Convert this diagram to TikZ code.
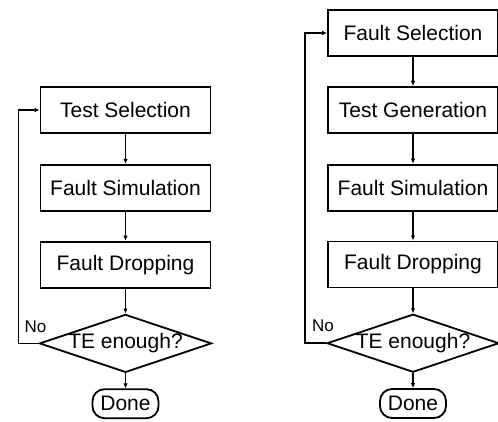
\documentclass[tikz,border=0pt]{standalone}
\usepackage{fontspec}
\setmainfont{Liberation Sans}
\usetikzlibrary{shapes.geometric, arrows.meta, positioning}
\tikzset{
    stepbox/.style = {draw, line width=1.8pt, minimum width=170pt, minimum height=46pt,
                      inner sep=0pt, font=\fontsize{21}{24}\selectfont},
    check/.style   = {draw, diamond, line width=1.8pt, minimum width=172pt, minimum height=58pt,
                      inner sep=0pt, font=\fontsize{21}{24}\selectfont},
    endbox/.style  = {draw, rounded corners=12pt, line width=1.8pt, minimum width=66pt,
                      minimum height=29pt, inner sep=0pt, font=\fontsize{21}{24}\selectfont},
    nolab/.style   = {inner sep=0pt, font=\fontsize{17}{20}\selectfont},
    flow/.style    = {-{Latex[length=5pt, width=4.5pt]}, line width=1.6pt},
}

\begin{document}
\begin{tikzpicture}[x=1pt, y=-1pt]
    \useasboundingbox (0,0) rectangle (498,421);
    % left: test oriented
    \node[stepbox] (sel) at (125.5,110) {Test Selection};
    \node[stepbox, below=30pt of sel] (sim) {Fault Simulation};
    \node[stepbox, below=29pt of sim] (drop) {Fault Dropping};
    \node[check, below=25pt of drop] (chk) {\makebox[0pt]{TE enough?}};
    \node[endbox, below=15pt of chk] (done) {Done};
    \node[nolab, anchor=south east] (no) at ([shift={(8,-11)}]chk.west) {No};
    \draw[flow] (sel) -- (sim);
    \draw[flow] (sim) -- (drop);
    \draw[flow] (drop) -- (chk);
    \draw[flow] (chk) -- (done);
    \draw[flow] (chk.west) -- ++(-20,0) |- (sel.west);
    % right: fault oriented
    \node[stepbox] (fsel) at (413,33) {Fault Selection};
    \node[stepbox, below=29pt of fsel] (tgen) {Test Generation};
    \node[stepbox, below=30pt of tgen] (fsim) {Fault Simulation};
    \node[stepbox, below=29pt of fsim] (fdrop) {Fault Dropping};
    \node[check, below=25pt of fdrop] (fchk) {\makebox[0pt]{TE enough?}};
    \node[endbox, below=15pt of fchk] (fdone) {Done};
    \node[nolab, anchor=south east] (fno) at ([shift={(8,-11)}]fchk.west) {No};
    \draw[flow] (fsel) -- (tgen);
    \draw[flow] (tgen) -- (fsim);
    \draw[flow] (fsim) -- (fdrop);
    \draw[flow] (fdrop) -- (fchk);
    \draw[flow] (fchk) -- (fdone);
    \draw[flow] (fchk.west) -- ++(-21,0) |- (fsel.west);
\end{tikzpicture}
\end{document}
